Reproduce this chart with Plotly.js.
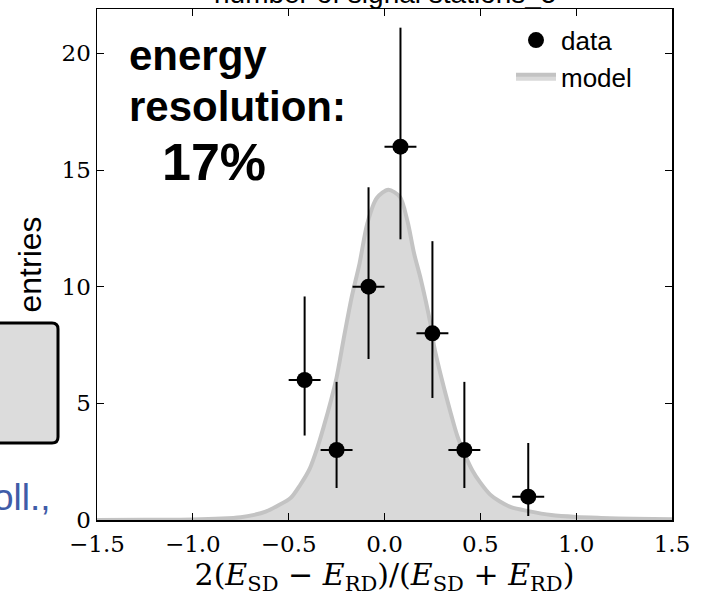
<!DOCTYPE html>
<html>
<head>
<meta charset="utf-8">
<script src="https://cdn.plot.ly/plotly-3.0.1.min.js"></script>
<style>html,body{margin:0;padding:0;background:#fff;}#chart{width:708px;height:597px;}</style>
</head>
<body>
<div id="chart"></div>
<script>
// Data points (histogram bins)
const binCenters = [-0.4167, -0.25, -0.0833, 0.0833, 0.25, 0.4167, 0.75];
const counts = [6, 3, 10, 16, 8, 3, 1];
const errUp = [3.58, 2.92, 4.26, 5.10, 3.95, 2.92, 2.30];
const errDown = [2.38, 1.63, 3.10, 3.97, 2.77, 1.63, 0.83];
const binHalfWidth = [0.0833, 0.0833, 0.0833, 0.0833, 0.0833, 0.0833, 0.0833];

// Model curve
const modelX = [-1.5, -1.25, -1.0, -0.85, -0.75, -0.68, -0.62, -0.56, -0.49, -0.44, -0.39, -0.35, -0.317, -0.28, -0.25, -0.21, -0.17, -0.13, -0.09, -0.04, 0.02, 0.08, 0.12, 0.155, 0.19, 0.24, 0.26, 0.3, 0.345, 0.38, 0.414, 0.46, 0.5, 0.55, 0.6, 0.66, 0.75, 0.87, 1.0, 1.13, 1.3, 1.5];
const modelY = [0.0, 0.01, 0.02, 0.06, 0.12, 0.22, 0.36, 0.6, 0.94, 1.5, 2.2, 3.1, 4.0, 5.1, 6.1, 7.9, 9.6, 11.0, 12.7, 13.8, 14.15, 13.85, 12.8, 11.4, 10.3, 8.4, 7.4, 6.0, 4.6, 3.6, 2.9, 2.1, 1.6, 1.1, 0.8, 0.55, 0.38, 0.21, 0.13, 0.09, 0.05, 0.03];

const xTicks = [-1.5, -1.0, -0.5, 0.0, 0.5, 1.0, 1.5];
const yTicks = [0, 5, 10, 15, 20];

const serif = 'DejaVu Serif';
const sans = 'Liberation Sans, Arial, sans-serif';

const model = {
  x: modelX, y: modelY, type: 'scatter', mode: 'lines', name: 'model',
  fill: 'tozeroy', fillcolor: 'rgb(217,217,217)',
  line: {color: 'rgb(195,195,195)', width: 4, shape: 'spline', smoothing: 0.8},
  legendrank: 2, hoverinfo: 'skip'
};
const data = {
  x: binCenters, y: counts, type: 'scatter', mode: 'markers', name: 'data',
  marker: {color: 'black', size: 16, symbol: 'circle'},
  error_y: {type: 'data', symmetric: false, array: errUp, arrayminus: errDown, color: 'black', thickness: 2, width: 0},
  error_x: {type: 'data', array: binHalfWidth, color: 'black', thickness: 2, width: 0},
  legendrank: 1
};

const W = 575, H = 511; // plot area size in px
function px(x){ return (x - 97) / W; }
function py(y){ return (520 - y) / H; }
const bx0 = px(-10), bx1 = px(58), by0 = py(443), by1 = py(323);
const rx = 6 / W, ry = 6 / H;
const boxPath = `M ${bx0},${by1} L ${bx1 - rx},${by1} Q ${bx1},${by1} ${bx1},${by1 - ry} L ${bx1},${by0 + ry} Q ${bx1},${by0} ${bx1 - rx},${by0} L ${bx0},${by0} Z`;

const layout = {
  width: 708, height: 597,
  margin: {l: 97, r: 36, t: 9, b: 77},
  paper_bgcolor: 'white', plot_bgcolor: 'white',
  showlegend: true,
  legend: {x: 0.72, y: 0.985, xanchor: 'left', yanchor: 'top', bgcolor: 'rgba(0,0,0,0)',
           font: {family: sans, size: 26, color: 'black'}, tracegroupgap: 0, itemwidth: 40},
  xaxis: {
    range: [-1.5, 1.5], tickvals: xTicks, tickformat: '.1f',
    ticks: 'inside', ticklen: 7, tickwidth: 1, tickcolor: 'black',
    showline: true, linecolor: 'black', linewidth: 1.5, mirror: 'ticks',
    showgrid: false, zeroline: false, ticklabelstandoff: 3,
    tickfont: {family: serif, size: 23, color: 'black'},
    title: {text: '2(<i>E</i><sub>SD</sub> − <i>E</i><sub>RD</sub>)/(<i>E</i><sub>SD</sub> + <i>E</i><sub>RD</sub>)',
            font: {family: serif, size: 30, color: 'black'}, standoff: 2}
  },
  yaxis: {
    range: [0, 21.9], tickvals: yTicks,
    ticks: 'inside', ticklen: 7, tickwidth: 1, tickcolor: 'black',
    showline: true, linecolor: 'black', linewidth: 1.5, mirror: 'ticks',
    showgrid: false, zeroline: false,
    tickfont: {family: serif, size: 23, color: 'black'},
    title: {text: 'entries', font: {family: sans, size: 32, color: 'black'}, standoff: 10}
  },
  shapes: [
    {type: 'path', xref: 'paper', yref: 'paper', path: boxPath,
     fillcolor: 'rgb(220,220,220)', line: {color: 'black', width: 3}}
  ],
  annotations: [
    {text: 'number of signal stations_5', xref: 'paper', yref: 'paper', x: 0.5, y: py(-6),
     xanchor: 'center', yanchor: 'middle', showarrow: false,
     font: {family: sans, size: 28, color: 'black'}},
    {text: '<b>energy</b>', xref: 'paper', yref: 'paper', x: px(127), y: py(30),
     xanchor: 'left', yanchor: 'top', align: 'left', showarrow: false,
     font: {family: sans, size: 42, color: 'black'}},
    {text: '<b>resolution:</b>', xref: 'paper', yref: 'paper', x: px(127), y: py(81),
     xanchor: 'left', yanchor: 'top', align: 'left', showarrow: false,
     font: {family: sans, size: 42, color: 'black'}},
    {text: '<b>17%</b>', xref: 'paper', yref: 'paper', x: px(160), y: py(162),
     xanchor: 'left', yanchor: 'middle', align: 'left', showarrow: false,
     font: {family: sans, size: 52, color: 'black'}},
    {text: 'oll.,', xref: 'paper', yref: 'paper', x: px(53), y: py(497),
     xanchor: 'right', yanchor: 'middle', showarrow: false,
     font: {family: sans, size: 37, color: 'rgb(63,92,168)'}}
  ]
};

Plotly.newPlot('chart', [model, data], layout, {displayModeBar: false, staticPlot: true});
</script>
</body>
</html>
